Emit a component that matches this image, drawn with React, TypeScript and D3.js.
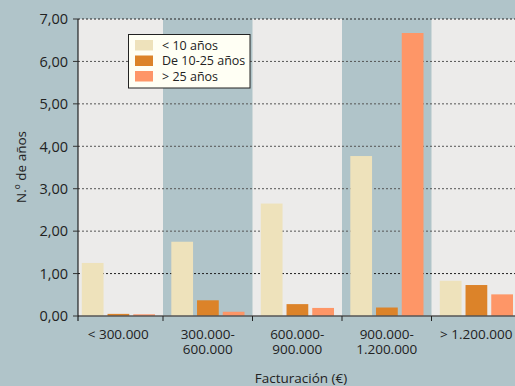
import React from "react";
import * as d3 from "d3";

const categories = ["< 300.000", "300.000-\n600.000", "600.000-\n900.000", "900.000-\n1.200.000", "> 1.200.000"];
const seriesNames = ["< 10 años", "De 10-25 años", "> 25 años"];
const menos10 = [1.25, 1.75, 2.65, 3.77, 0.83];
const de10a25 = [0.05, 0.37, 0.28, 0.2, 0.73];
const mas25 = [0.04, 0.1, 0.19, 6.67, 0.51];
const yTicks = [0, 1, 2, 3, 4, 5, 6, 7];
const colors = ["#EEE2BB", "#DC8329", "#FE9667"];
const bandFills = ["#ECEBEA", "#B0C4C9"];

export default function App() {
  const W = 515, H = 386;
  const axisX = 78;
  const bandStart = 73.5;
  const bandW = 89.5;
  const top = 19, bottom = 316;
  const series = [menos10, de10a25, mas25];

  const x = d3.scaleBand<string>().domain(categories).range([bandStart, bandStart + bandW * categories.length]);
  const xi = d3.scaleBand<number>().domain([0, 1, 2]).range([8.3, bandW - 8]).paddingInner(0.155);
  const y = d3.scaleLinear().domain([0, 7]).range([bottom, top]);
  const font = "'Open Sans', 'Noto Sans', sans-serif";

  return (
    <svg width={W} height={H} style={{ position: "absolute", left: 0, top: 0 }}>
      <rect x={0} y={0} width={W} height={H} fill="#B0C4C9" />
      {categories.map((c, i) => {
        const x0 = Math.max(x(c)!, axisX);
        const x1 = x(c)! + bandW;
        return <rect key={c} x={x0} y={top} width={x1 - x0} height={bottom - top} fill={bandFills[i % 2]} />;
      })}
      {yTicks.filter(t => t > 0).map(t => (
        <line key={t} x1={axisX} x2={W} y1={y(t)} y2={y(t)} stroke={t === 7 || t === 1 ? "#222" : "#555"} strokeWidth={1} strokeDasharray="2,2" />
      ))}
      {categories.map((c, i) => (
        <g key={c} transform={`translate(${x(c)},0)`}>
          {series.map((s, k) => (
            <rect key={k} x={xi(k)} y={y(s[i])} width={xi.bandwidth()} height={bottom - y(s[i])} fill={colors[k]} />
          ))}
        </g>
      ))}
      <line x1={axisX} x2={W} y1={bottom} y2={bottom} stroke="#555" strokeWidth={1.5} />
      <line x1={axisX} x2={axisX} y1={top} y2={bottom + 5} stroke="#000" strokeWidth={1} />
      {categories.slice(1).map(c => (
        <line key={c} x1={x(c)} x2={x(c)} y1={bottom} y2={bottom + 5} stroke="#222" strokeWidth={1} />
      ))}
      {yTicks.map(t => (
        <g key={t}>
          <line x1={axisX - 5} x2={axisX} y1={y(t)} y2={y(t)} stroke="#333" strokeWidth={1} />
          <text x={axisX - 10} y={y(t)} dy="0.36em" textAnchor="end" fontFamily={font} fontSize={14.5} fill="#222">
            {d3.format(".2f")(t).replace(".", ",")}
          </text>
        </g>
      ))}
      {categories.map(c =>
        c.split("\n").map((ln, j) => (
          <text key={c + j} x={x(c)! + bandW / 2} y={bottom + 23 + j * 15} textAnchor="middle" fontFamily={font} fontSize={13.5} fill="#222">
            {ln}
          </text>
        ))
      )}
      <text x={301} y={383} textAnchor="middle" fontFamily={font} fontSize={13.5} fill="#222">Facturación (€)</text>
      <text transform="translate(26,167) rotate(-90)" textAnchor="middle" fontFamily={font} fontSize={13.5} fill="#222">N.º de años</text>
      <g>
        <rect x={128.5} y={34.5} width={121.5} height={53.5} fill="#FFFFF4" stroke="#222" strokeWidth={1} />
        {seriesNames.map((n, k) => (
          <g key={n}>
            <rect x={135} y={40 + k * 15.5} width={18} height={10.5} fill={colors[k]} />
            <text x={162} y={45.3 + k * 15.5} dy="0.36em" fontFamily={font} fontSize={12.5} fill="#222">{n}</text>
          </g>
        ))}
      </g>
    </svg>
  );
}
